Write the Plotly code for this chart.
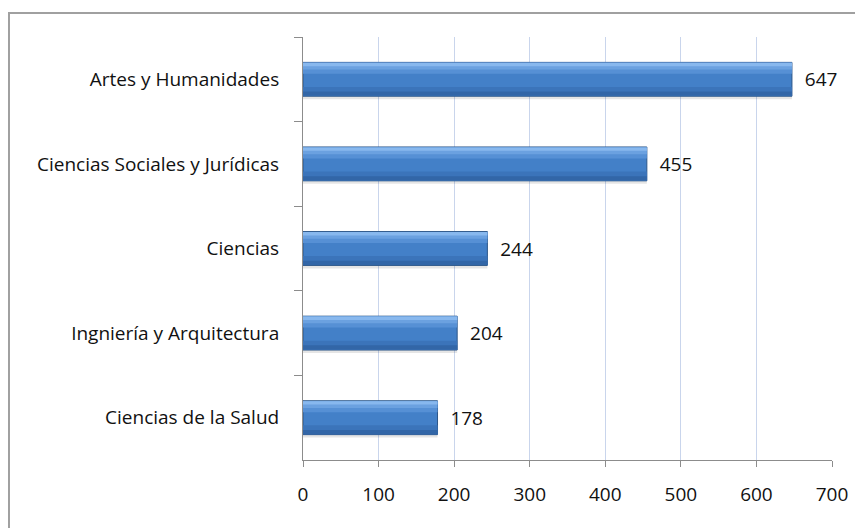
import plotly.graph_objects as go

categories = ["Artes y Humanidades", "Ciencias Sociales y Jurídicas", "Ciencias",
              "Ingniería y Arquitectura", "Ciencias de la Salud"]
values = [647, 455, 244, 204, 178]
x_ticks = [0, 100, 200, 300, 400, 500, 600, 700]

FONT = "Open Sans"
FS = 19
fig = go.Figure()

def layer(offset, width, color, **kw):
    fig.add_trace(go.Bar(
        y=categories, x=values, orientation="h", width=width, offset=offset,
        marker=dict(color=color, line=dict(width=0)),
        hoverinfo="skip", showlegend=False, **kw))

# soft shadow under bars
layer(0.2, 0.035, "rgba(0,0,0,0.10)")
# base bar with labels
fig.add_trace(go.Bar(
    y=categories, x=values, orientation="h", width=0.4, offset=-0.2,
    marker=dict(color="#4380c8", line=dict(color="#2c5688", width=1)),
    text=["\u00a0\u00a0" + str(v) for v in values], textposition="outside",
    textfont=dict(family=FONT, size=FS, color="#111111"),
    cliponaxis=False, hoverinfo="skip", showlegend=False))
# gradient layers (top lighter, bottom darker)
layer(-0.195, 0.13, "#5690d5")
layer(-0.195, 0.08, "#6ba1e0")
layer(-0.195, 0.04, "#88b8ee")
layer(0.09, 0.105, "#3b74ba")
layer(0.145, 0.05, "#3266a7")

fig.update_layout(
    width=863, height=528, barmode="overlay",
    margin=dict(l=295, r=39, t=29, b=76),
    paper_bgcolor="white", plot_bgcolor="white",
    font=dict(family=FONT, size=FS, color="#111111"),
    xaxis=dict(range=[0, 700], tickvals=x_ticks, showgrid=True,
               gridcolor="#c9d5ec", gridwidth=1, zeroline=False,
               showline=True, linecolor="#8c8c8c", linewidth=1,
               ticks="outside", ticklen=6, tickcolor="#8c8c8c",
               ticklabelstandoff=11,
               tickfont=dict(family=FONT, size=FS, color="#111111")),
    yaxis=dict(autorange="reversed", showgrid=False, zeroline=False,
               showline=True, linecolor="#8c8c8c", linewidth=1,
               ticks="outside", ticklen=8, tickcolor="#8c8c8c",
               tickson="boundaries", ticklabelstandoff=19,
               tickfont=dict(family=FONT, size=FS, color="#111111")),
    shapes=[dict(type="rect", xref="paper", yref="paper",
                 x0=-0.5558, x1=1.2, y0=-0.3, y1=1.0567,
                 line=dict(color="#a0a0a0", width=2), fillcolor="rgba(0,0,0,0)",
                 layer="below")],
)

fig.write_html("out.html")
